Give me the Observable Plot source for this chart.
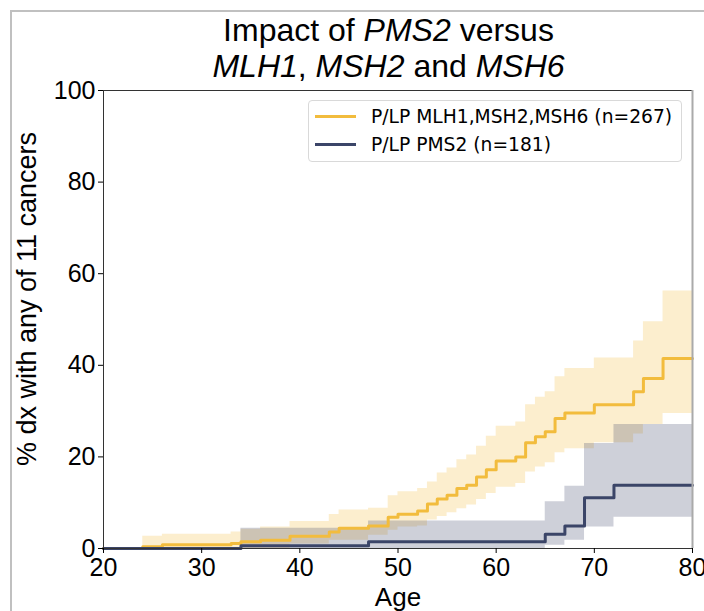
<!DOCTYPE html>
<html><head><meta charset="utf-8">
<script src="https://cdn.jsdelivr.net/npm/d3@7"></script>
<script src="https://cdn.jsdelivr.net/npm/@observablehq/plot@0.6"></script>
<style>
body{margin:0;background:#fff;}
#wrap{position:relative;width:704px;height:611px;overflow:hidden;font-family:"Liberation Sans",Arial,sans-serif;}
#frame{position:absolute;left:10px;top:10px;width:800px;height:700px;border:2px solid #c0c0c0;box-sizing:border-box;}
#title{position:absolute;left:0;top:12px;width:777px;text-align:center;font-size:32px;line-height:36px;color:#000;}
#chart{position:absolute;left:0;top:80px;}
#legend{position:absolute;left:308px;top:100px;width:374px;height:62px;box-sizing:border-box;border:1px solid #d9d9d9;border-radius:4px;background:rgba(255,255,255,0.8);font-family:"DejaVu Sans",sans-serif;font-size:18.7px;color:#000;}
.row{position:absolute;left:6px;height:24px;display:flex;align-items:center;}
.sw{width:41px;height:3px;margin-right:15px;}
</style></head>
<body><div id="wrap"><div id="frame"></div>
<div id="title">Impact of <i>PMS2</i> versus<br><i>MLH1</i>, <i>MSH2</i> and <i>MSH6</i></div>
<div id="chart"></div>
<div id="legend"></div></div>
<script>
const xTicks = [20, 30, 40, 50, 60, 70, 80];
const yTicks = [0, 20, 40, 60, 80, 100];
const seriesNames = ["P/LP MLH1,MSH2,MSH6 (n=267)", "P/LP PMS2 (n=181)"];
const colors = ["#F2BC3D", "#3B4568"];

// Series A: MLH1, MSH2, MSH6
const agesA  = [20, 24, 26, 33, 34, 36, 39, 43, 44, 47, 49, 50, 52, 53, 54, 55, 56, 57, 58, 59, 60, 62, 63, 64, 65, 66, 67, 70, 74, 75, 77, 80];
const lineA  = [0, 0.4, 0.8, 1.1, 1.5, 1.8, 2.7, 3.6, 4.4, 4.9, 6.8, 7.5, 8.2, 9.7, 10.8, 11.6, 13.1, 13.8, 15.6, 17.2, 19.1, 20.0, 23.1, 24.4, 25.5, 28.4, 29.6, 31.4, 34.2, 37.1, 41.5, 41.5];
const upperA = [null, 2.7, 3.1, 3.6, 4.2, 4.7, 5.9, 7.4, 8.4, 8.8, 11.5, 12.4, 13.1, 14.5, 16.5, 17.6, 19.4, 20.4, 22.3, 24.5, 26.7, 27.6, 31.4, 33.0, 34.2, 37.5, 39.3, 41.6, 45.3, 49.5, 56.2, 56.2];
const lowerA = [null, 0, 0, 0, 0, 0, 1.0, 1.8, 1.8, 2.9, 4.0, 4.7, 4.9, 6.2, 7.0, 7.8, 8.7, 9.5, 10.7, 12.0, 13.4, 14.2, 16.7, 17.8, 18.7, 20.9, 21.8, 23.1, 25.0, 27.1, 29.5, 29.5];

// Series B: PMS2
const agesB  = [20, 34, 47, 65, 67, 69, 72, 80];
const lineB  = [0, 0.6, 1.5, 3.1, 4.9, 11.1, 13.8, 13.8];
const upperB = [null, 4.4, 6.0, 10.2, 13.6, 22.9, 27.1, 27.1];
const lowerB = [null, 0, 0, 0.7, 1.8, 4.7, 6.8, 6.8];

const toLine = (ages, vals) => ages.map((a, i) => ({age: a, v: vals[i]}));
const toBand = (ages, lo, hi) => ages.map((a, i) => ({age: a, lo: lo[i], hi: hi[i]})).filter(d => d.lo != null);

const chart = Plot.plot({
  width: 704, height: 531,
  marginLeft: 103, marginRight: 12, marginTop: 10, marginBottom: 63,
  style: {fontFamily: "'Liberation Sans', Arial, sans-serif", fontSize: "25px", background: "transparent", color: "#000", overflow: "visible"},
  x: {domain: [20, 80]},
  y: {domain: [0, 100]},
  marks: [
    Plot.areaY(toBand(agesA, lowerA, upperA), {x: "age", y1: "lo", y2: "hi", curve: "step-after", fill: colors[0], fillOpacity: 0.25}),
    Plot.areaY(toBand(agesB, lowerB, upperB), {x: "age", y1: "lo", y2: "hi", curve: "step-after", fill: colors[1], fillOpacity: 0.25}),
    Plot.line(toLine(agesA, lineA), {x: "age", y: "v", curve: "step-after", stroke: colors[0], strokeWidth: 3}),
    Plot.line(toLine(agesB, lineB), {x: "age", y: "v", curve: "step-after", stroke: colors[1], strokeWidth: 3}),
    Plot.frame({stroke: "#333", strokeWidth: 1}),
    Plot.ruleX([80], {stroke: "#aaa", strokeWidth: 2}),
    Plot.axisX({ticks: xTicks, tickSize: 5, tickPadding: 5, label: null, tickFormat: d => String(d)}),
    Plot.axisY({ticks: yTicks, tickSize: 5, tickPadding: 3, label: null, tickFormat: d => String(d)})
  ]
});
const svg = d3.select(chart);
svg.append("text").attr("transform", "translate(36,219) rotate(-90)").attr("text-anchor", "middle")
  .attr("font-size", 27).attr("fill", "#000").text("% dx with any of 11 cancers");
svg.append("text").attr("x", 398).attr("y", 526).attr("text-anchor", "middle")
  .attr("font-size", 26).attr("fill", "#000").text("Age");
document.getElementById("chart").appendChild(chart);

const legend = document.getElementById("legend");
seriesNames.forEach((name, i) => {
  const row = document.createElement("div");
  row.className = "row";
  row.style.top = (i === 0 ? 3.5 : 31.5) + "px";
  const sw = document.createElement("div");
  sw.className = "sw";
  sw.style.background = colors[i];
  const t = document.createElement("span");
  t.textContent = name;
  row.appendChild(sw); row.appendChild(t);
  legend.appendChild(row);
});
</script>
</body></html>
